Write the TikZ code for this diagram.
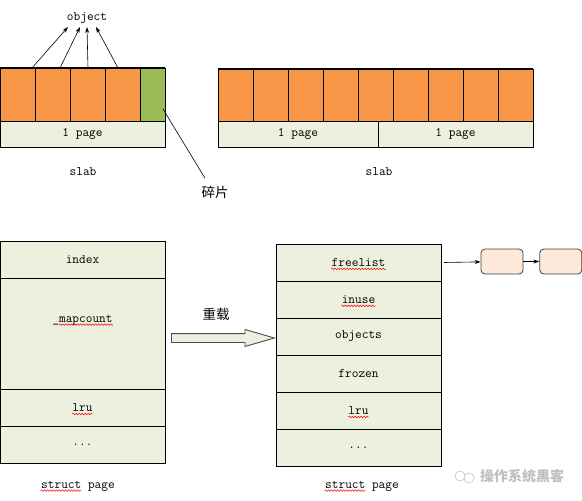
\documentclass[tikz,border=0pt]{standalone}
\usepackage{fontspec}
\newfontfamily\cjk{Noto Sans CJK SC}
\usetikzlibrary{positioning, arrows.meta, shapes.arrows, decorations.pathmorphing}
\definecolor{SlabOrange}{RGB}{247,150,70}
\definecolor{WasteGreen}{RGB}{155,187,89}
\definecolor{PageGreen}{RGB}{235,241,222}
\definecolor{ListPeach}{RGB}{253,233,217}
\tikzset{
  objcell/.style={draw=black, fill=SlabOrange, line width=0.8pt, minimum width=35pt,
    minimum height=53pt, inner sep=0pt, outer sep=0pt, anchor=north west},
  wastecell/.style={objcell, fill=WasteGreen, minimum width=25pt},
  pagecell/.style={draw=black, fill=PageGreen, line width=0.8pt, minimum height=26pt,
    inner sep=0pt, outer sep=0pt, anchor=north west},
  field/.style={draw=black, fill=PageGreen, line width=0.8pt, minimum width=165pt,
    minimum height=37pt, inner sep=0pt, outer sep=0pt, anchor=north west},
  listbox/.style={draw=black!75, fill=ListPeach, line width=0.8pt, rounded corners=4pt,
    minimum width=42pt, minimum height=25pt, inner sep=0pt},
  objarrow/.style={-{Stealth[length=6pt, width=4pt]}, line width=0.6pt},
  listarrow/.style={-{Stealth[length=6pt, width=4pt]}, line width=0.6pt},
  reloadarrow/.style={single arrow, draw=black!70, fill=PageGreen, line width=0.9pt,
    minimum height=103pt, inner xsep=0pt, inner ysep=4pt, single arrow head extend=4pt,
    single arrow tip angle=32, single arrow head indent=0pt},
  cjktext/.style={font=\cjk\fontsize{13.5}{15}\selectfont},
  squiggle/.style={draw=red, line width=0.5pt, decorate,
    decoration={snake, amplitude=0.8pt, segment length=3pt}},
}

\begin{document}
\begin{tikzpicture}[x=1pt, y=-1pt, font=\ttfamily\fontsize{13}{15}\selectfont]
  \useasboundingbox (0,0) rectangle (582,501);
  % left slab: four objects and the leftover piece
  \foreach \i in {1,...,4}
    \node[objcell] (a\i) at ({35*(\i-1)},68) {};
  \node[wastecell] (waste) at (140,68) {};
  \draw[line width=1.8pt] (a1.north west) -- (waste.north east);
  \node[pagecell, minimum width=165pt] (pg) at (0,121) {1 page};
  \node (obj) at (87,18) {object};
  \foreach \i/\dx/\ex in {1/14.5/-19, 2/7.5/-7, 3/0.5/0, 4/-4.5/9}
    \draw[objarrow] ([xshift=\dx pt]a\i.north) -- ([xshift=\ex pt]obj.south);
  \node (slab1) at (83,172) {slab};
  \node[cjktext] (frag) at (215,192) {碎片};
  \draw[line width=0.6pt] ([xshift=-2pt, yshift=-14.5pt]waste.east) -- ([xshift=-10pt, yshift=4pt]frag.north);

  % right slab: nine objects over two pages
  \foreach \i in {1,...,9}
    \node[objcell] (b\i) at ({218+35*(\i-1)},69) {};
  \draw[line width=1.8pt] (b1.north west) -- (b9.north east);
  \node[pagecell, minimum width=160pt] (pg1) at (218,121) {1 page};
  \node[pagecell, minimum width=155pt] (pg2) at (378,121) {1 page};
  \node (slab2) at (379,172) {slab};

  % struct page before
  \node[field] (index) at (0,241) {index};
  \node[field, minimum height=111pt, below=0pt of index] (mapbox) {};
  \node[field, below=0pt of mapbox] (lru1) {lru};
  \node[field, below=0pt of lru1] (dots1) {...};
  \node (mapcount) at ([yshift=-42pt]mapbox.north) {\_mapcount};
  \node (sp1) at (78,486) {struct page};

  % reuse as slab
  \node[reloadarrow, anchor=tail] (reload) at ([xshift=6pt, yshift=-4.5pt]mapbox.east) {};
  \node[cjktext] (reloadtxt) at (216,314) {重载};

  % struct page after
  \node[field] (freelist) at (276,244) {freelist};
  \node[field, below=0pt of freelist] (inuse) {inuse};
  \node[field, below=0pt of inuse] (objects) {objects};
  \node[field, below=0pt of objects] (frozen) {frozen};
  \node[field, below=0pt of frozen] (lru2) {lru};
  \node[field, below=0pt of lru2] (dots2) {...};
  \node (sp2) at (362,486) {struct page};

  % free objects list
  \node[listbox] (l1) at (502,261.5) {};
  \node[listbox, right=16pt of l1] (l2) {};
  \draw[listarrow] ([xshift=3pt]freelist.east) -- (l1);
  \draw[listarrow] (l1) -- (l2);

  % spell check marks
  \foreach \n/\w in {freelist/27.3, inuse/17, lru1/10.2, lru2/10.2}
    \draw[squiggle] ([xshift=-\w pt, yshift=-2.5pt]\n.base) -- ([xshift=\w pt, yshift=-2.5pt]\n.base);
  \draw[squiggle] ([xshift=-23.8pt, yshift=-2.5pt]mapcount.base) -- ([xshift=30.6pt, yshift=-2.5pt]mapcount.base);
  \foreach \n in {sp1, sp2}
    \draw[squiggle] ([xshift=-37.4pt, yshift=-2.5pt]\n.base) -- ([xshift=3.4pt, yshift=-2.5pt]\n.base);

  % watermark
  \node[font=\cjk\bfseries\fontsize{14}{16}\selectfont, text=gray!50] (mark) at (522,476) {操作系统黑客};
  \draw[gray!40, line width=0.8pt] (460,476) circle (5pt) (469,478) circle (5pt);
\end{tikzpicture}
\end{document}
